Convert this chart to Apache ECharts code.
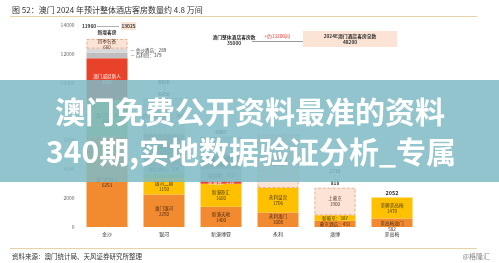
<!DOCTYPE html>
<html><head><meta charset="utf-8">
<script src="https://cdn.jsdelivr.net/npm/echarts@6/dist/echarts.min.js"></script>
<style>html,body{margin:0;padding:0;background:#fff}#c{width:499px;height:263px}</style>
</head><body><div id="c"></div>
<script>
// ---------------- DATA ----------------
const categories = ['金沙', '银河', '新濠博亚', '永利', '澳博', '美高梅'];
const yMax = 14000;
const yStep = 2000;

// segments from bottom to top (rooms)
const sandsValues  = [6253, 2541, 2905, 379, 289, 660];
const sandsNames   = ['澳门伦敦人', '澳门巴黎人', '澳门威尼斯人', '百利宫', '金沙酒店', '四季名荟'];
const galaxyValues = [2250, 1150, 320, 500, 2210, 2490];
const galaxyNames  = ['澳门银河', '银河二期', '百老汇', '星际酒店', '银河三期', '2021年后开业'];
const melcoValues  = [1400, 1600, 216, 772, 999, 1253];
const melcoNames   = ['新濠天地', '新濠影汇', '新濠锋', '摩珀斯', '影汇二期', '新增'];
const wynnValues   = [1008, 1706, 3700];
const wynnNames    = ['永利澳门', '永利皇宫', '永利新增'];
const sjmValues    = [431, 387, 1900];
const sjmNames     = ['葡京酒店', '新葡京', '上葡京'];
const mgmValues    = [582, 1470];
const mgmNames     = ['美高梅澳门', '美狮美高梅'];

const topTotals   = ['新增客房', '8920', '4987', '', '2718', '2052'];
const topExisting = ['', '6430', '', '', '818', ''];

const sandsNow = '11960', sandsNext = '13025';
const macauNowTitle = '澳门整体酒店客房数', macauNow = '35000';
const macauAdd = '+约13200间';
const macau2024Title = '2024E澳门酒店客房总数', macau2024 = '48200';

// ---------------- STYLES ----------------
const FONT = '"Noto Sans CJK SC","Noto Sans",sans-serif';
const kindStyle = {
  orange:    { fill: '#F28B30', text: '#4a2a10' },
  yellow:    { fill: '#FFC000', text: '#4a3a10' },
  red:       { fill: '#E8432A', text: '#fff3ef' },
  green:     { fill: '#9BBB59', text: '#2f3a1a' },
  gray:      { fill: '#BFBFBF', text: '#404040' },
  lightgray: { fill: '#D9D9D9', text: '#404040' },
  olive:     { fill: '#A9A48F', text: '#333333' },
  newPink:   { fill: '#FBE4D5', text: '#5a3a2a', border: '#E4A27C' },
  newGray:   { fill: '#E4E4E4', text: '#444444', border: '#9A9A9A' }
};
const companies = [
  { values: sandsValues,  names: sandsNames,
    kinds: ['orange','green','red','gray','lightgray','newPink'],
    modes: ['inside','inside','inside','right','right','inside'] },
  { values: galaxyValues, names: galaxyNames,
    kinds: ['orange','yellow','green','gray','olive','newGray'],
    modes: ['inside','inside','none','line','inside','line'] },
  { values: melcoValues,  names: melcoNames,
    kinds: ['orange','yellow','red','gray','olive','newGray'],
    modes: ['inside','inside','line','line','inside','none'] },
  { values: wynnValues,   names: wynnNames,
    kinds: ['orange','yellow','newPink'],
    modes: ['inside','inside','inside'] },
  { values: sjmValues,    names: sjmNames,
    kinds: ['orange','yellow','newPink'],
    modes: ['line','line','inside'] },
  { values: mgmValues,    names: mgmNames,
    kinds: ['orange','yellow'],
    modes: ['split','inside'] }
];

function labelFor(mode, name, value, k) {
  const base = { fontFamily: FONT, fontSize: 4.6, lineHeight: 6, color: k.text };
  if (mode === 'inside') return Object.assign(base, { show: true, position: 'inside', formatter: name + '\n' + value });
  if (mode === 'line')   return Object.assign(base, { show: true, position: 'inside', formatter: name + '：' + value });
  if (mode === 'split')  return Object.assign(base, { show: true, position: 'inside', offset: [0, 3], formatter: name + '\n' + value });
  if (mode === 'right')  return Object.assign(base, { show: true, position: 'right', distance: 3, color: '#404040', formatter: '— ' + name + '：' + value });
  return { show: false };
}

const maxLayers = Math.max(...companies.map(c => c.values.length));
const series = [];
for (let L = 0; L < maxLayers; L++) {
  series.push({
    type: 'bar', stack: 'rooms', barWidth: 41, silent: true,
    data: companies.map(c => {
      if (L >= c.values.length) return '-';
      const k = kindStyle[c.kinds[L]];
      return {
        value: c.values[L],
        itemStyle: k.border
          ? { color: k.fill, borderColor: k.border, borderWidth: 0.8, borderType: 'dashed' }
          : { color: k.fill },
        label: labelFor(c.modes[L], c.names[L], c.values[L], k)
      };
    })
  });
}
// top labels (zero-height bar at the top of each stack)
series.push({
  type: 'bar', stack: 'rooms', barWidth: 41, silent: true,
  itemStyle: { color: 'transparent' },
  data: categories.map((_, i) => {
    const t = topTotals[i], e = topExisting[i];
    let fmt = '{t|' + t + '}';
    if (e) fmt += '\n{s||}\n{e|' + e + '}';
    return {
      value: 0,
      label: {
        show: !!t, position: 'top', distance: i === 0 ? 4 : 1.5, formatter: fmt,
        rich: {
          t: { fontFamily: FONT, fontSize: i === 5 ? 5.5 : 4.8, fontWeight: 'bold', color: '#333', lineHeight: 6 },
          s: { fontFamily: FONT, fontSize: 4.5, color: '#666', lineHeight: 6 },
          e: { fontFamily: FONT, fontSize: 4.8, fontWeight: 'bold', color: '#333', lineHeight: 6 }
        }
      }
    };
  })
});

const tiny = (x, y, text, opt) => ({
  type: 'text', x, y, z: 50,
  style: Object.assign({ text, fontFamily: FONT, fontSize: 4.8, fill: '#333', align: 'center', verticalAlign: 'middle' }, opt || {})
});

const chart = echarts.init(document.getElementById('c'), null, { renderer: 'canvas' });
chart.setOption({
  animation: false,
  backgroundColor: '#ffffff',
  grid: { left: 78.5, right: 78.5, top: 25, bottom: 36, containLabel: false, outerBoundsMode: 'none' },
  xAxis: {
    type: 'category', data: categories,
    axisLine: { show: false }, axisTick: { show: false },
    axisLabel: { fontFamily: FONT, fontSize: 5, color: '#333', margin: 5 }
  },
  yAxis: {
    type: 'value', min: 0, max: yMax, interval: yStep,
    axisLine: { show: false }, axisTick: { show: false }, splitLine: { show: false },
    axisLabel: { fontFamily: FONT, fontSize: 5, color: '#666', margin: 4, formatter: v => String(v) }
  },
  series,
  graphic: [
    // title
    { type: 'text', x: 12, y: 10, z: 50, style: { text: '图 52：澳门 2024 年预计整体酒店客房数量约 4.8 万间', fontFamily: FONT, fontSize: 8, fill: '#333', verticalAlign: 'middle' } },
    { type: 'line', z: 50, shape: { x1: 10, y1: 16.5, x2: 477, y2: 16.5 }, style: { stroke: '#E6D3A6', lineWidth: 1 } },
    // sands annotation
    tiny(89, 26, sandsNow, { fontWeight: 'bold' }),
    { type: 'line', z: 50, shape: { x1: 97, y1: 26.5, x2: 119, y2: 26.5 }, style: { stroke: '#666', lineWidth: 0.5 } },
    { type: 'rect', z: 49, shape: { x: 121, y: 22, width: 15, height: 8 }, style: { fill: '#FBE4D5' } },
    tiny(128.5, 26, sandsNext, { fontWeight: 'bold' }),
    // top right annotation
    tiny(234, 37, macauNowTitle, { fontWeight: 'bold' }),
    tiny(234, 43, macauNow, { fontWeight: 'bold' }),
    { type: 'line', z: 50, shape: { x1: 252, y1: 41.5, x2: 303, y2: 41.5 }, style: { stroke: '#555', lineWidth: 0.6 } },
    tiny(277, 36, macauAdd, { fill: '#E0302A' }),
    { type: 'rect', z: 49, shape: { x: 303, y: 31, width: 94, height: 16 }, style: { fill: '#FBE4D5' } },
    tiny(350, 36, macau2024Title, { fontWeight: 'bold' }),
    tiny(350, 42, macau2024, { fontWeight: 'bold' }),
    // footer
    { type: 'line', z: 50, shape: { x1: 10, y1: 248.5, x2: 477, y2: 248.5 }, style: { stroke: '#E6D3A6', lineWidth: 1 } },
    { type: 'text', x: 12, y: 257, z: 50, style: { text: '资料来源：澳门统计局、天风证券研究所整理', fontFamily: FONT, fontSize: 6.5, fill: '#333', verticalAlign: 'middle' } },
    { type: 'text', x: 490, y: 256, z: 50, style: { text: '@格隆汇', fontFamily: FONT, fontSize: 7, fill: '#8a8a8a', align: 'right', verticalAlign: 'middle' } },
    // overlay band
    { type: 'rect', z: 100, shape: { x: 0, y: 80, width: 499, height: 102 }, style: { fill: 'rgba(128,186,198,0.86)' } },
    { type: 'text', x: 250, y: 112, z: 101, style: { text: '澳门免费公开资料最准的资料', fontFamily: FONT, fontSize: 30, fontWeight: 'bold', fill: '#ffffff', align: 'center', verticalAlign: 'middle' } },
    { type: 'text', x: 251, y: 152, z: 101, style: { text: '340期,实地数据验证分析_专属', fontFamily: FONT, fontSize: 30, fontWeight: 'bold', fill: '#ffffff', align: 'center', verticalAlign: 'middle' } }
  ]
});
</script>
</body></html>
